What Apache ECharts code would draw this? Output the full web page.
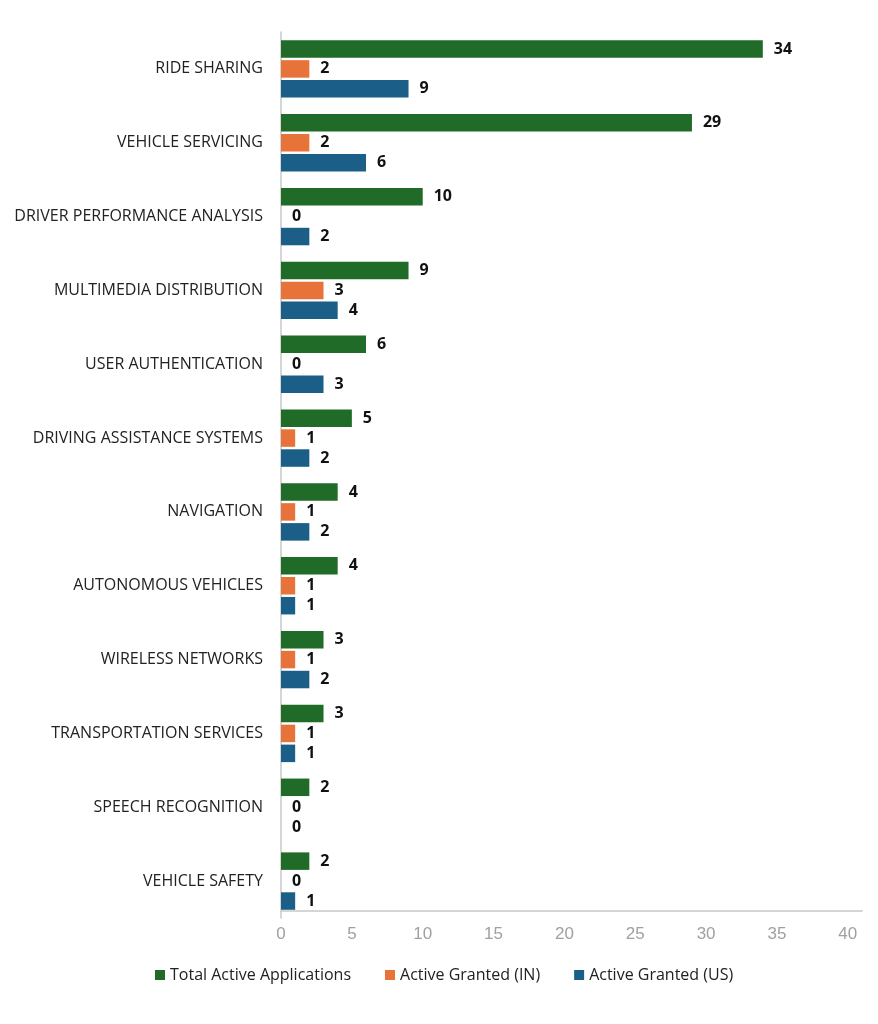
<!DOCTYPE html>
<html lang="en">
<head>
    <meta charset="UTF-8">
    <title>Active Applications</title>
    <script src="https://cdn.jsdelivr.net/npm/echarts@6/dist/echarts.min.js"></script>
    <style>
        html, body { margin: 0; padding: 0; background: #fff; }
    </style>
</head>
<body>
    <div id="main" style="width: 878px;height: 1024px;"></div>
    <script type="text/javascript">
        var categories = ['RIDE SHARING', 'VEHICLE SERVICING', 'DRIVER PERFORMANCE ANALYSIS', 'MULTIMEDIA DISTRIBUTION',
            'USER AUTHENTICATION', 'DRIVING ASSISTANCE SYSTEMS', 'NAVIGATION', 'AUTONOMOUS VEHICLES',
            'WIRELESS NETWORKS', 'TRANSPORTATION SERVICES', 'SPEECH RECOGNITION', 'VEHICLE SAFETY'];
        var totalActive = [34, 29, 10, 9, 6, 5, 4, 4, 3, 3, 2, 2];
        var grantedIN = [2, 2, 0, 3, 0, 1, 1, 1, 1, 1, 0, 0];
        var grantedUS = [9, 6, 2, 4, 3, 2, 2, 1, 2, 1, 0, 1];
        var seriesNames = ['Total Active Applications', 'Active Granted (IN)', 'Active Granted (US)'];
        var colors = ['#1f6b27', '#e8733a', '#1b5e87'];

        var myChart = echarts.init(document.getElementById('main'));

        // label style shared by all three series
        var valueLabel = {
            show: true,
            position: 'right',
            distance: 11,
            color: '#111',
            fontWeight: 'bold',
            fontSize: 16,
            fontFamily: 'Open Sans'
        };

        function makeSeries(i, data) {
            return {
                name: seriesNames[i],
                type: 'bar',
                data: data,
                barWidth: 17.5,
                barGap: '14%',
                itemStyle: { color: colors[i] },
                label: valueLabel
            };
        }

        myChart.setOption({
            animation: false,
            textStyle: { fontFamily: 'Open Sans' },
            grid: {
                left: 281,
                right: 16,
                top: 32,
                bottom: 106
            },
            legend: {
                bottom: 36,
                left: 150,
                icon: 'rect',
                itemWidth: 10,
                itemHeight: 10,
                itemGap: 34,
                textStyle: { fontSize: 16, color: '#222', fontFamily: 'Open Sans' },
                data: seriesNames
            },
            xAxis: {
                type: 'value',
                min: 0,
                max: 41,
                interval: 5,
                offset: -7,
                splitLine: { show: false },
                axisTick: { show: false },
                axisLine: { show: true, lineStyle: { color: '#c8c8c8', width: 1.5 } },
                axisLabel: {
                    showMaxLabel: false,
                    color: '#a0a0a0',
                    fontSize: 17,
                    margin: 15,
                    fontFamily: 'Liberation Sans'
                }
            },
            yAxis: {
                type: 'category',
                data: categories,
                inverse: true,
                axisTick: { show: false },
                axisLine: { show: true, lineStyle: { color: '#c8c8c8', width: 1.5 } },
                axisLabel: {
                    color: '#222',
                    fontSize: 16,
                    margin: 18,
                    fontFamily: 'Open Sans'
                }
            },
            series: [
                makeSeries(0, totalActive),
                makeSeries(1, grantedIN),
                makeSeries(2, grantedUS)
            ]
        });
    </script>
</body>
</html>
